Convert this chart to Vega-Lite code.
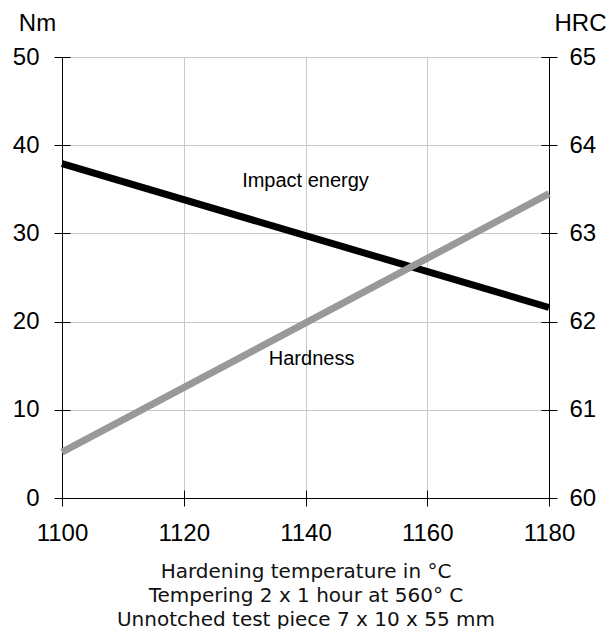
{
  "$schema": "https://vega.github.io/schema/vega-lite/v6.json",
  "width": 487,
  "height": 441,
  "autosize": "none",
  "padding": {"left": 62, "top": 57, "right": 65, "bottom": 131},
  "background": "white",
  "config": {"view": {"stroke": null}, "font": "Liberation Sans"},
  "datasets": {
    "impact": [{"T": 1100, "Nm": 37.9}, {"T": 1180, "Nm": 21.6}],
    "hardness": [{"T": 1100, "HRC": 60.52}, {"T": 1180, "HRC": 63.45}],
    "labels": [
      {"T": 1140, "Nm": 35.3, "label": "Impact energy"},
      {"T": 1141, "Nm": 15.1, "label": "Hardness"}
    ]
  },
  "encoding": {
    "x": {
      "field": "T",
      "type": "quantitative",
      "scale": {"domain": [1100, 1180], "nice": false},
      "axis": {
        "values": [1100, 1120, 1140, 1160, 1180],
        "format": "d",
        "offset": -8,
        "tickSize": 16,
        "tickColor": "black",
        "domain": false,
        "grid": true,
        "gridColor": {"condition": {"test": "datum.value == 1100 || datum.value == 1180", "value": "black"}, "value": "#c8c8c8"},
        "labelFontSize": 24,
        "labelColor": "black",
        "labelPadding": 15,
        "labelFlush": false,
        "labelOverlap": false,
        "title": ["Hardening temperature in °C", "Tempering 2 x 1 hour at 560° C", "Unnotched test piece 7 x 10 x 55 mm"],
        "titleFont": "DejaVu Sans",
        "titleFontSize": 20,
        "titleFontWeight": "normal",
        "titleColor": "#111",
        "titleLineHeight": 24,
        "titleBaseline": "alphabetic",
        "titleY": 87
      }
    }
  },
  "layer": [
    {
      "data": {"name": "impact"},
      "mark": {"type": "line", "color": "black", "strokeWidth": 7, "strokeCap": "butt"},
      "encoding": {
        "y": {
          "field": "Nm",
          "type": "quantitative",
          "scale": {"domain": [0, 50], "nice": false},
          "axis": {
            "orient": "left",
            "values": [0, 10, 20, 30, 40, 50],
            "offset": -8,
            "tickSize": 16,
            "tickColor": "black",
            "domain": false,
            "grid": true,
            "gridColor": {"condition": {"test": "datum.value == 0", "value": "black"}, "value": "#c8c8c8"},
            "labelFontSize": 24,
            "labelColor": "black",
            "labelPadding": 15,
            "labelFlush": false,
            "labelOverlap": false,
            "title": "Nm",
            "titleAngle": 0,
            "titleFontSize": 24,
            "titleFontWeight": "normal",
            "titleColor": "black",
            "titleAlign": "center",
            "titleBaseline": "alphabetic",
            "titleX": -33,
            "titleY": -27
          }
        }
      }
    },
    {
      "data": {"name": "hardness"},
      "mark": {"type": "line", "color": "#999999", "strokeWidth": 7, "strokeCap": "butt"},
      "encoding": {
        "y": {
          "field": "HRC",
          "type": "quantitative",
          "scale": {"domain": [60, 65], "nice": false},
          "axis": {
            "orient": "right",
            "values": [60, 61, 62, 63, 64, 65],
            "offset": -8,
            "tickSize": 16,
            "tickColor": "black",
            "domain": false,
            "grid": false,
            "labelFontSize": 24,
            "labelColor": "black",
            "labelPadding": 12,
            "labelFlush": false,
            "labelOverlap": false,
            "title": "HRC",
            "titleAngle": 0,
            "titleFontSize": 24,
            "titleFontWeight": "normal",
            "titleColor": "black",
            "titleAlign": "center",
            "titleBaseline": "alphabetic",
            "titleX": 39,
            "titleY": -27
          }
        }
      }
    },
    {
      "data": {"name": "labels"},
      "mark": {"type": "text", "fontSize": 20, "color": "black", "align": "center", "baseline": "alphabetic"},
      "encoding": {
        "y": {"field": "Nm", "type": "quantitative", "scale": {"domain": [0, 50], "nice": false}, "axis": null},
        "text": {"field": "label"}
      }
    }
  ],
  "resolve": {"scale": {"y": "independent"}, "axis": {"y": "independent"}}
}
